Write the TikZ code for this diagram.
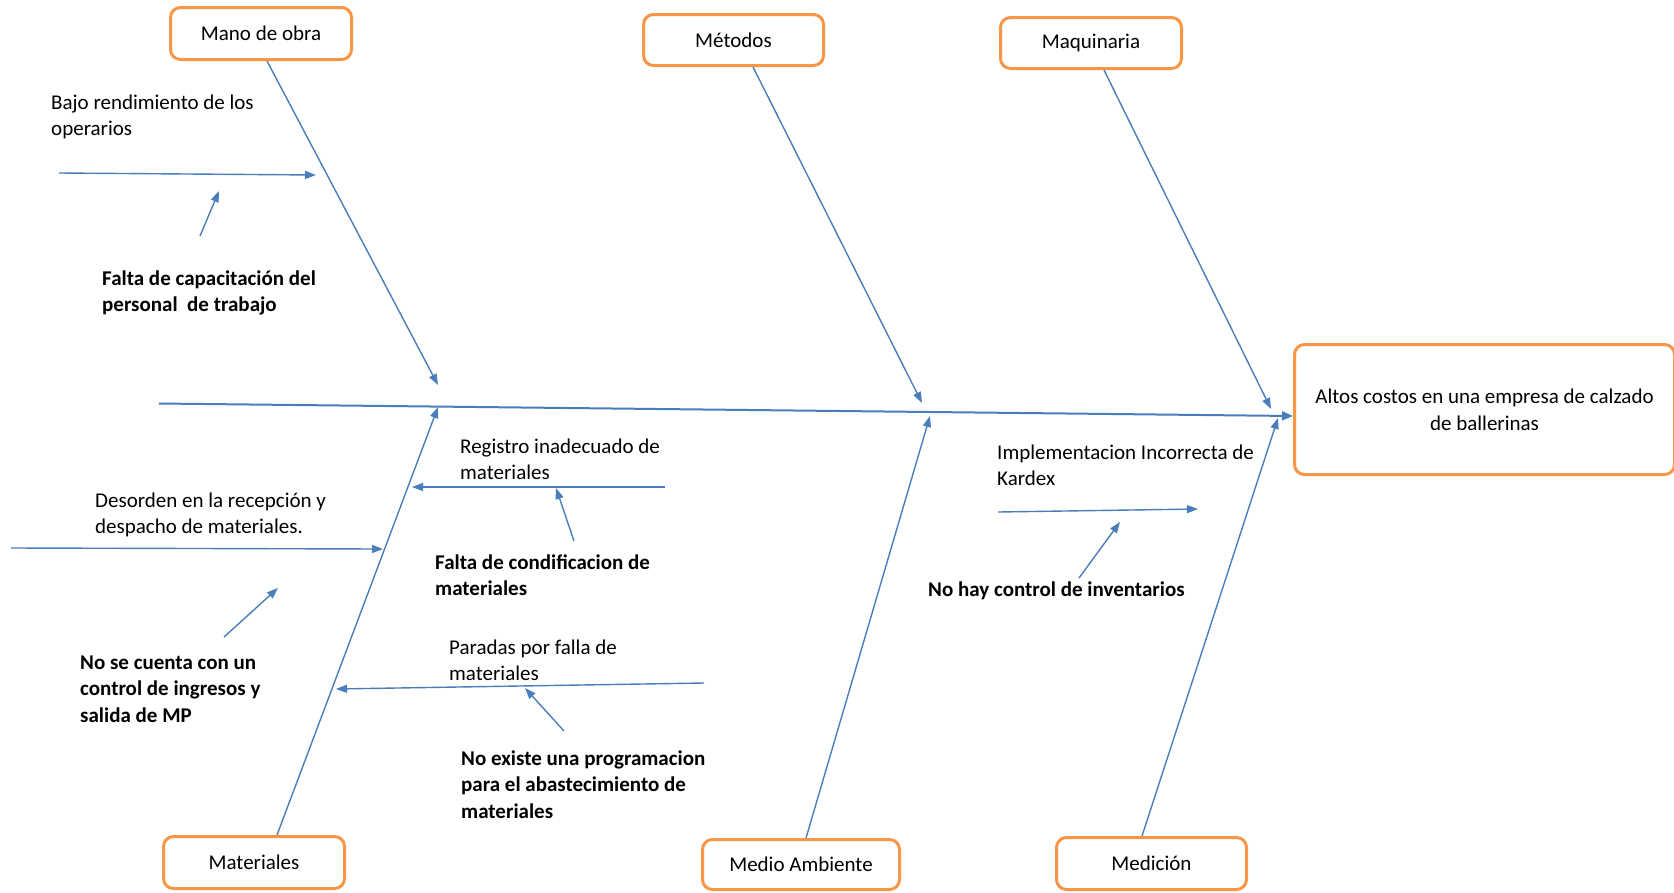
\documentclass[tikz,border=0pt]{standalone}
\usepackage{fontspec}
\setmainfont{Carlito}
\usetikzlibrary{arrows.meta}
\definecolor{bonecol}{HTML}{4A7EBB}
\definecolor{boxcol}{HTML}{F79646}
\begin{document}
\begin{tikzpicture}[x=1pt,y=-1pt,
  catbox/.style={draw=boxcol, line width=3pt, rounded corners=10pt, fill=white,
    inner sep=2pt, align=center, font=\fontsize{21}{26.7}\selectfont},
  bonearrow/.style={draw=bonecol, line width=1.4pt, -{Triangle[length=11pt,width=8pt]}},
  spinearrow/.style={draw=bonecol, line width=2pt, -{Triangle[length=11pt,width=9pt]}},
  causetxt/.style={anchor=base west, align=left, inner sep=0pt, font=\fontsize{21}{26.7}\selectfont},
  boldtxt/.style={anchor=base west, align=left, inner sep=0pt, font=\fontsize{21}{26.7}\selectfont\bfseries}
]
\useasboundingbox (0,0) rectangle (1674,892);

% category boxes
\node[catbox, minimum width=181pt, minimum height=52pt] (mano) at (261,33.5) {Mano de obra};
\node[catbox, minimum width=180pt, minimum height=51pt] (metodos) at (733.5,40) {Métodos};
\node[catbox, minimum width=181pt, minimum height=51pt] (maq) at (1091,43) {Maquinaria};
\node[catbox, minimum width=181pt, minimum height=52pt] (mat) at (254,862.5) {Materiales};
\node[catbox, minimum width=197pt, minimum height=50pt] (medio) at (801,864.5) {Medio Ambiente};
\node[catbox, minimum width=190pt, minimum height=52pt] (medic) at (1151.5,863.5) {Medición};
\node[catbox, minimum width=380pt, minimum height=130pt] (effect) at (1484.5,409.5)
  {Altos costos en una empresa de calzado\\de ballerinas};

% spine
\coordinate (spineL) at (159,403.5);
\draw[spinearrow] (spineL) -- ([yshift=-6.5pt]effect.west);

% main bones
\coordinate (manoT) at (438,385);
\coordinate (metT) at (922,403);
\coordinate (maqT) at (1271,409);
\coordinate (matT) at (438,407);
\coordinate (medioT) at (930,416);
\coordinate (medicT) at (1278,418);
\draw[bonearrow] ([xshift=6pt]mano.south) -- (manoT);
\draw[bonearrow] ([xshift=19.5pt]metodos.south) -- (metT);
\draw[bonearrow] ([xshift=13pt]maq.south) -- (maqT);
\draw[bonearrow] ([xshift=23pt]mat.north) -- (matT);
\draw[bonearrow] ([xshift=5pt]medio.north) -- (medioT);
\draw[bonearrow] ([xshift=-9.5pt]medic.north) -- (medicT);

% Mano de obra sub-causes (anchor = baseline of the last line)
\node[causetxt] (t1) at (51,135.7) {Bajo rendimiento de los\\operarios};
\coordinate (s1a) at (59,173);
\coordinate (s1b) at (316,175);
\draw[bonearrow] (s1a) -- (s1b);
\coordinate (r1a) at (200,236);
\coordinate (r1b) at (219,191);
\draw[bonearrow] (r1a) -- (r1b);
\node[boldtxt] (b1) at (102,311.7) {Falta de capacitación del\\personal\ \ de trabajo};

% Materiales sub-causes (left)
\node[causetxt] (t2) at (95,533.7) {Desorden en la recepción y\\despacho de materiales.};
\coordinate (s2a) at (11,548);
\coordinate (s2b) at (383,549);
\draw[bonearrow] (s2a) -- (s2b);
\coordinate (r2a) at (224,637);
\coordinate (r2b) at (278,588);
\draw[bonearrow] (r2a) -- (r2b);
\node[boldtxt] (b2) at (80,722.4) {No se cuenta con un\\control de ingresos y\\salida de MP};

% Materiales sub-causes (right)
\node[causetxt] (t3) at (460,479.7) {Registro inadecuado de\\materiales};
\coordinate (s3a) at (665,487);
\coordinate (s3b) at (412,487);
\draw[bonearrow] (s3a) -- (s3b);
\coordinate (r3a) at (574,541);
\coordinate (r3b) at (556,488);
\draw[bonearrow] (r3a) -- (r3b);
\node[boldtxt] (b3) at (435,595.7) {Falta de condificacion de\\materiales};

\node[causetxt] (t4) at (449,680.7) {Paradas por falla de\\materiales};
\coordinate (s4a) at (704,683);
\coordinate (s4b) at (336,689);
\draw[bonearrow] (s4a) -- (s4b);
\coordinate (r4a) at (564,731);
\coordinate (r4b) at (525,688);
\draw[bonearrow] (r4a) -- (r4b);
\node[boldtxt] (b4) at (461,818.4) {No existe una programacion\\para el abastecimiento de\\materiales};

% Medio Ambiente / Medición sub-causes
\node[causetxt] (t5) at (997,485.7) {Implementacion Incorrecta de\\Kardex};
\coordinate (s5a) at (998,512);
\coordinate (s5b) at (1198,509);
\draw[bonearrow] (s5a) -- (s5b);
\coordinate (r5a) at (1079,578);
\coordinate (r5b) at (1120,522);
\draw[bonearrow] (r5a) -- (r5b);
\node[boldtxt] (b5) at (928,596) {No hay control de inventarios};
\end{tikzpicture}
\end{document}
